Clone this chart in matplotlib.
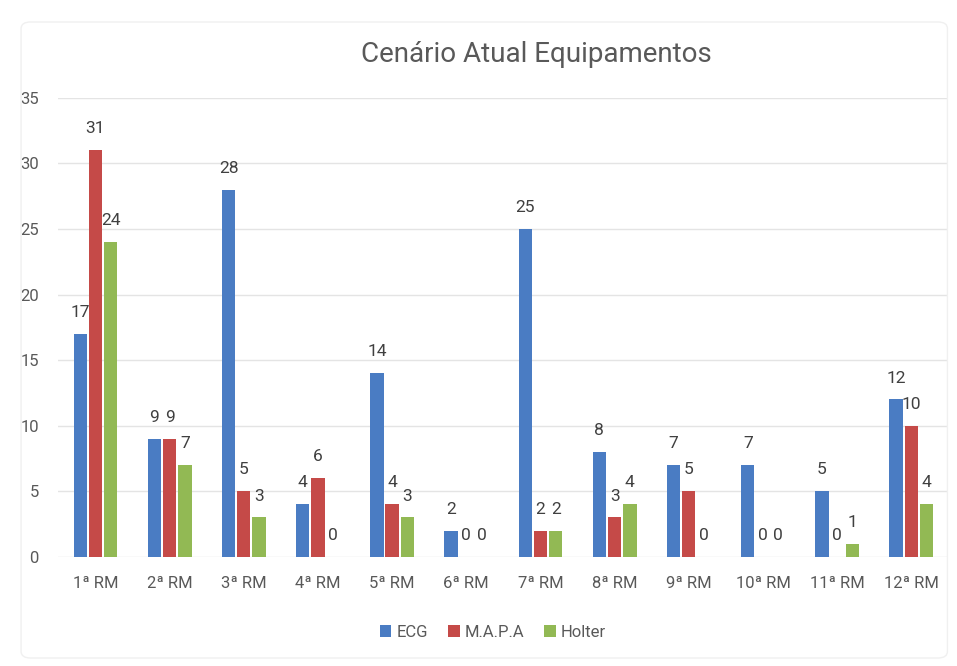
import matplotlib
matplotlib.use("Agg")
import matplotlib.pyplot as plt
from matplotlib.patches import FancyBboxPatch
import numpy as np

plt.rcParams['font.family'] = ['Roboto', 'DejaVu Sans']

categories = ['1ª RM', '2ª RM', '3ª RM', '4ª RM', '5ª RM', '6ª RM',
              '7ª RM', '8ª RM', '9ª RM', '10ª RM', '11ª RM', '12ª RM']
ecg = [17, 9, 28, 4, 14, 2, 25, 8, 7, 7, 5, 12]
mapa = [31, 9, 5, 6, 4, 0, 2, 3, 5, 0, 0, 10]
holter = [24, 7, 3, 0, 3, 0, 2, 4, 0, 0, 1, 4]
series_names = ['ECG', 'M.A.P.A', 'Holter']
colors = ['#4A7CC3', '#C54A48', '#92B954']

fig = plt.figure(figsize=(9.57, 6.66), dpi=100)
fig.patches.append(FancyBboxPatch((0.022, 0.012), 0.968, 0.955,
                                  boxstyle="round,pad=0,rounding_size=0.01",
                                  transform=fig.transFigure, fill=False,
                                  edgecolor='#f0f0f0', linewidth=1))
ax = fig.add_axes([0.061, 0.164, 0.93, 0.689])

x = np.arange(len(categories))
w = 0.18
step = 0.205
for i, (vals, name, c) in enumerate(zip([ecg, mapa, holter], series_names, colors)):
    bars = ax.bar(x + (i - 1) * step, vals, width=w, color=c, label=name, zorder=3)
    ax.bar_label(bars, labels=[str(v) for v in vals], padding=10,
                 fontsize=12.5, color='#404040')

ax.set_ylim(0, 35)
ax.set_xlim(-0.5, len(categories) - 0.5)
ax.set_yticks(range(0, 36, 5))
ax.set_xticks(x)
ax.set_xticklabels(categories)
ax.tick_params(axis='both', length=0, labelsize=12, labelcolor='#595959')
ax.tick_params(axis='x', pad=14)
ax.tick_params(axis='y', pad=14)
ax.grid(axis='y', color='#e4e4e4', linewidth=1, zorder=0)
for s in ax.spines.values():
    s.set_visible(False)

fig.text(0.56, 0.918, 'Cenário Atual Equipamentos', ha='center', va='center',
         fontsize=20, color='#595959')
fig.legend(loc='center', bbox_to_anchor=(0.515, 0.051), ncol=3, frameon=False,
           fontsize=12, handlelength=0.7, handleheight=0.7, handletextpad=0.3,
           columnspacing=1.2, labelcolor='#595959')

fig.savefig('out.png', dpi=100)
